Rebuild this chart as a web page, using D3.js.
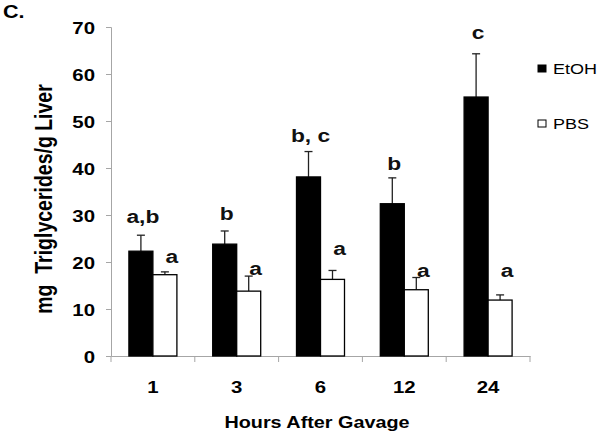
<!DOCTYPE html>
<html><head><meta charset="utf-8">
<script src="https://cdn.jsdelivr.net/npm/d3@7"></script>
<style>
body{margin:0;background:#fff;}
text{font-family:Arial,"Liberation Sans",sans-serif;}
</style></head>
<body><svg id="c" width="600" height="438"></svg>
<script>
const categories = ["1","3","6","12","24"];
const seriesNames = ["EtOH","PBS"];
const etohValues = [22.3, 23.8, 38.1, 32.4, 55.1];
const etohErrors = [3.4, 2.8, 5.4, 5.5, 9.2];
const pbsValues = [17.3, 13.8, 16.3, 14.1, 11.9];
const pbsErrors = [0.6, 3.2, 1.9, 2.6, 1.1];
const etohLetters = ["a,b","b","b, c","b","c"];
const pbsLetters = ["a","a","a","a","a"];
const etohLetterAt = [28.3, 28.9, 45.5, 39.6, 67.4];
const pbsLetterAt = [19.8, 17.2, 21.5, 16.8, 16.8];
const yTicks = [0,10,20,30,40,50,60,70];

const K = 1.2; // horizontal text stretch of the original figure
function stretchX(sel) {
  sel.each(function() {
    const t = d3.select(this);
    const x = +t.attr("x") || 0, y = +t.attr("y") || 0;
    t.attr("x", 0).attr("y", 0).attr("transform", `translate(${x},${y}) scale(${K},1)`);
  });
}

const svg = d3.select("#c");
const L = 111, R = 530, T = 27, B = 356;
const x = d3.scaleBand().domain(categories).range([L, R]).padding(0);
const xs = d3.scaleBand().domain(seriesNames).range([0, x.bandwidth()]).paddingInner(0).paddingOuter(0.746);
const y = d3.scaleLinear().domain([0, 70]).range([B, T]);
const axisColor = "#a6a6a6";

// y axis
const ya = svg.append("g").attr("transform", `translate(${L},0)`)
  .call(d3.axisLeft(y).tickValues(yTicks).tickSize(5).tickPadding(11).tickFormat(d3.format("d")));
ya.select(".domain").attr("stroke", axisColor);
ya.selectAll(".tick line").attr("stroke", axisColor);
ya.selectAll("text").attr("font-size", 17).attr("font-weight", "bold").attr("fill", "#000").attr("dy", "0.36em");
stretchX(ya.selectAll("text"));

// x axis
const xa = svg.append("g").attr("transform", `translate(0,${B})`)
  .call(d3.axisBottom(x).tickSize(0).tickPadding(25));
xa.select(".domain").attr("stroke", axisColor);
xa.selectAll("text").attr("font-size", 17).attr("font-weight", "bold").attr("fill", "#000");
stretchX(xa.selectAll("text"));
const bounds = categories.map(c => x(c)).concat([x(categories[categories.length-1]) + x.bandwidth()]);
svg.append("g").selectAll("line").data(bounds).join("line")
  .attr("x1", d => d).attr("x2", d => d).attr("y1", B).attr("y2", B + 6)
  .attr("stroke", axisColor);

const rows = categories.map((c, i) => ({c, i}));
const series = [
  {name: "EtOH", vals: etohValues, errs: etohErrors, letters: etohLetters, at: etohLetterAt, fill: "#000", dx: 2},
  {name: "PBS", vals: pbsValues, errs: pbsErrors, letters: pbsLetters, at: pbsLetterAt, fill: "#fff", dx: 7}
];

series.forEach(s => {
  const g = svg.append("g");
  const cx = d => x(d.c) + xs(s.name) + xs.bandwidth() / 2;
  g.selectAll("line.err").data(rows).join("line").attr("class", "err")
    .attr("x1", cx).attr("x2", cx)
    .attr("y1", d => y(s.vals[d.i])).attr("y2", d => y(s.vals[d.i] + s.errs[d.i]))
    .attr("stroke", "#222").attr("stroke-width", 1.3);
  g.selectAll("line.cap").data(rows).join("line").attr("class", "cap")
    .attr("x1", d => cx(d) - 4).attr("x2", d => cx(d) + 4)
    .attr("y1", d => y(s.vals[d.i] + s.errs[d.i])).attr("y2", d => y(s.vals[d.i] + s.errs[d.i]))
    .attr("stroke", "#222").attr("stroke-width", 1.3);
  g.selectAll("rect").data(rows).join("rect")
    .attr("x", d => x(d.c) + xs(s.name))
    .attr("y", d => y(s.vals[d.i]))
    .attr("width", xs.bandwidth())
    .attr("height", d => B - y(s.vals[d.i]))
    .attr("fill", s.fill).attr("stroke", "#000").attr("stroke-width", 1.3);
  const lt = g.selectAll("text").data(rows).join("text")
    .attr("x", d => cx(d) + s.dx)
    .attr("y", d => y(s.at[d.i]))
    .attr("text-anchor", "middle").attr("font-size", 19).attr("font-weight", "bold")
    .attr("fill", "#111")
    .text(d => s.letters[d.i]);
  stretchX(lt);
});

// axis titles
svg.append("text").attr("transform", `translate(52,199) scale(${K},1) rotate(-90)`)
  .attr("text-anchor", "middle").attr("font-size", 19.5).attr("font-weight", "bold")
  .style("white-space", "pre")
  .text("mg  Triglycerides/g Liver");
stretchX(svg.append("text").attr("x", 317).attr("y", 428)
  .attr("text-anchor", "middle").attr("font-size", 16.5).attr("font-weight", "bold")
  .text("Hours After Gavage"));
stretchX(svg.append("text").attr("x", 3).attr("y", 18).attr("font-size", 18).attr("font-weight", "bold").text("C."));

// legend
const leg = svg.append("g").selectAll("g").data(seriesNames).join("g")
  .attr("transform", (d, i) => `translate(538,${65 + i * 55})`);
leg.append("rect").attr("width", 8).attr("height", 7)
  .attr("fill", d => d === "EtOH" ? "#000" : "#fff").attr("stroke", "#000").attr("stroke-width", 1);
stretchX(leg.append("text").attr("x", 15).attr("y", 9).attr("font-size", 15).text(d => d));
</script></body></html>
